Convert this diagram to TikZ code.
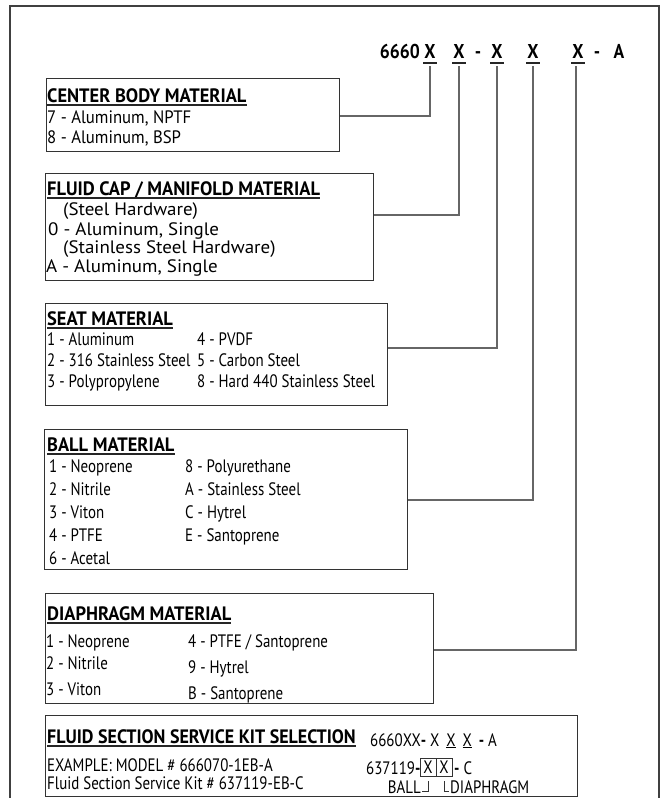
\documentclass[tikz,border=0pt]{standalone}
\usepackage{fontspec}
\setmainfont{PT Sans}[FakeStretch=0.83]
\newfontfamily\ttlfont{PT Sans}[FakeStretch=0.95]
\newfontfamily\hdrfont{PT Sans}[FakeStretch=0.88]
\newcommand{\cbw}[1]{\scalebox{1.12}[1]{#1}}
\newcommand{\fcw}[1]{\scalebox{1.27}[1]{#1}}
\begin{document}
\begin{tikzpicture}[x=1pt,y=-1pt,
  box/.style={draw=black!80, line width=1.1pt, anchor=north west, inner sep=0pt},
  conn/.style={draw=black!60, line width=1.2pt},
  ttl/.style={anchor=base west, inner sep=0pt, font=\ttlfont\fontsize{19.4}{21}\selectfont\bfseries},
  txt/.style={anchor=base west, inner sep=0pt, font=\fontsize{18}{20}\selectfont},
  hdr/.style={anchor=base, inner sep=0pt, font=\hdrfont\fontsize{20}{22}\selectfont\bfseries},
  uln/.style={draw=black!85, line width=1.5pt},
  kbox/.style={draw=black!80, line width=0.8pt, inner sep=0pt, minimum width=16pt, minimum height=18pt, font=\fontsize{18}{20}\selectfont}]
\useasboundingbox (0,0) rectangle (662,798);
\fill[white] (0,0) rectangle (662,798);
\draw[line width=1.8pt, black!75] (10,800) -- (10,6) -- (659,6) -- (659,800);

% header code
\node[hdr, anchor=base east] (h6660) at (420,58) {6660};
\node[hdr] (x1) at (430,58) {X};
\node[hdr] (x2) at (459,58) {X};
\node[hdr] (d1) at (478,58) {-};
\node[hdr] (x3) at (497,58) {X};
\node[hdr] (x4) at (533,58) {X};
\node[hdr] (x5) at (578,58) {X};
\node[hdr] (d2) at (597,58) {-};
\node[hdr] (ha) at (619,58) {A};
\foreach \n in {x1,x2,x3,x4,x5}
  \draw[uln] ([xshift=-7pt,yshift=-5pt]\n.base) -- ([xshift=7pt,yshift=-5pt]\n.base);

\coordinate (s1) at (430,66);
\coordinate (s2) at (459,66);
\coordinate (s3) at (497,66);
\coordinate (s4) at (533,66);
\coordinate (s5) at (576,66);
\coordinate (y1) at (0,116);
\coordinate (y2) at (0,215);
\coordinate (y3) at (0,348);
\coordinate (y4) at (0,500);
\coordinate (y5) at (0,650);

% boxes
\node[box, minimum width=293pt, minimum height=73pt] (cb) at (46,78) {};
\node[box, minimum width=328pt, minimum height=107pt] (fc) at (45,173) {};
\node[box, minimum width=342pt, minimum height=102pt] (seat) at (45,303) {};
\node[box, minimum width=363pt, minimum height=140pt] (ball) at (44,429) {};
\node[box, minimum width=388pt, minimum height=110pt] (diaph) at (45,593) {};
\node[box, minimum width=532pt, minimum height=81pt] (kit) at (45,715) {};

% connectors
\draw[conn] (s1) |- (cb.east |- y1);
\draw[conn] (s2) |- (fc.east |- y2);
\draw[conn] (s3) |- (seat.east |- y3);
\draw[conn] (s4) |- (ball.east |- y4);
\draw[conn] (s5) |- (diaph.east |- y5);

% center body
\node[ttl] (t1) at (47,102) {CENTER BODY MATERIAL};
\draw[uln] ([yshift=-3pt]t1.base west) -- ([yshift=-3pt]t1.base east);
\node[txt] at (47,123) {\cbw{7 - Aluminum, NPTF}};
\node[txt] at (47,143) {\cbw{8 - Aluminum, BSP}};

% fluid cap
\node[ttl] (t2) at (47,195) {FLUID CAP / MANIFOLD MATERIAL};
\draw[uln] ([yshift=-3pt]t2.base west) -- ([yshift=-3pt]t2.base east);
\node[txt] at (63,215) {\fcw{(Steel Hardware)}};
\node[txt] at (48,235) {\fcw{0 - Aluminum, Single}};
\node[txt] at (63,253) {\fcw{(Stainless Steel Hardware)}};
\node[txt] at (46,272) {\fcw{A - Aluminum, Single}};

% seat
\node[ttl] (t3) at (47,325) {SEAT MATERIAL};
\draw[uln] ([yshift=-3pt]t3.base west) -- ([yshift=-3pt]t3.base east);
\node[txt] at (47,345) {1 - Aluminum};
\node[txt] at (47,366) {2 - 316 Stainless Steel};
\node[txt] at (47,387) {3 - Polypropylene};
\node[txt] at (197,345) {4 - PVDF};
\node[txt] at (197,366) {5 - Carbon Steel};
\node[txt] at (197,387) {8 - Hard 440 Stainless Steel};

% ball
\node[ttl] (t4) at (47,451) {BALL MATERIAL};
\draw[uln] ([yshift=-3pt]t4.base west) -- ([yshift=-3pt]t4.base east);
\node[txt] at (49,472) {1 - Neoprene};
\node[txt] at (49,495) {2 - Nitrile};
\node[txt] at (49,518) {3 - Viton};
\node[txt] at (49,541) {4 - PTFE};
\node[txt] at (49,564) {6 - Acetal};
\node[txt] at (185,472) {8 - Polyurethane};
\node[txt] at (185,495) {A - Stainless Steel};
\node[txt] at (185,518) {C - Hytrel};
\node[txt] at (185,541) {E - Santoprene};

% diaphragm
\node[ttl] (t5) at (47,620) {DIAPHRAGM MATERIAL};
\draw[uln] ([yshift=-3pt]t5.base west) -- ([yshift=-3pt]t5.base east);
\node[txt] at (46,647) {1 - Neoprene};
\node[txt] at (46,669) {2 - Nitrile};
\node[txt] at (46,695) {3 - Viton};
\node[txt] at (188,647) {4 - PTFE / Santoprene};
\node[txt] at (188,673) {9 - Hytrel};
\node[txt] at (188,699) {B - Santoprene};

% kit
\node[ttl] (t6) at (47,743) {\scalebox{0.975}[1]{FLUID SECTION SERVICE KIT SELECTION}};
\draw[uln] ([yshift=-3pt]t6.base west) -- ([yshift=-3pt]t6.base east);
\node[txt] at (47,771) {EXAMPLE: MODEL \# 666070-1EB-A};
\node[txt] at (47,789) {Fluid Section Service Kit \# 637119-EB-C};
\node[txt] (kcode) at (370,746) {6660XX\textbf{-} X\, \underline{X}\, \underline{X}\, \textbf{-} A};
\node[txt] (k637) at (366,774) {637119\textbf{-}};
\node[kbox] (kx1) at (428,767) {X};
\node[kbox] (kx2) at (444,767) {X};
\node[txt] (kc) at (454,774) {\textbf{-} C};
\node[txt, anchor=base east] (kball) at (421,793) {BALL};
\node[txt] (kdia) at (450,793) {DIAPHRAGM};
\draw[black!80, line width=0.8pt] ([yshift=-5pt]kx1.south) |- ([xshift=1pt,yshift=2pt]kball.base east);
\draw[black!80, line width=0.8pt] ([yshift=-5pt]kx2.south) |- ([xshift=-1pt,yshift=2pt]kdia.base west);
\end{tikzpicture}
\end{document}
